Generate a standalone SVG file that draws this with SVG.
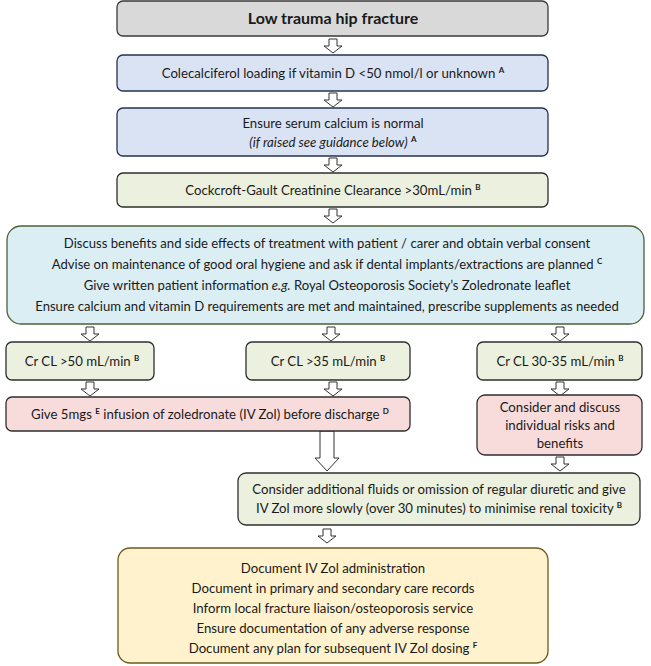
<svg xmlns="http://www.w3.org/2000/svg" width="651" height="666" viewBox="0 0 651 666">
<defs>
<style>
text{font-family:Lato,"Liberation Sans",sans-serif;font-size:13.2px;fill:#1a1a1a;text-anchor:middle}
.t5{font-size:13.1px}
.b{stroke-width:1.3}
.grey{fill:#d9d9d9;stroke:#3a3a3a}
.blue{fill:#dae3f3;stroke:#26324f}
.green{fill:#ebf1de;stroke:#2e2e2e}
.cyan{fill:#dbeef4;stroke:#4a6336}
.pink{fill:#f8dcdc;stroke:#2e2e2e}
.yellow{fill:#fff2cc;stroke:#6b5a1e}
.sup{font-size:8px;font-weight:bold}
.arr{fill:#fff;stroke:#333;stroke-width:1}
</style>
<path id="a" d="M-4,0 L4,0 L4,7 L9,7 L0,14 L-9,7 L-4,7 Z"/>
</defs>
<rect width="651" height="666" fill="#fff"/>
<g id="connectors" class="arr">
<use href="#a" x="333" y="39"/>
<use href="#a" x="333" y="93"/>
<use href="#a" x="333" y="158"/>
<use href="#a" x="333" y="209"/>
<use href="#a" x="90" y="327"/>
<use href="#a" x="331" y="327"/>
<use href="#a" x="560" y="327"/>
<use href="#a" x="90" y="382"/>
<use href="#a" x="333" y="382"/>
<use href="#a" x="560" y="382"/>
<use href="#a" x="560" y="457"/>
<path d="M320,431 L334,431 L334,458 L339,458 L327,471 L315,458 L320,458 Z"/>
<use href="#a" x="327" y="529"/>
</g>
<g id="n1"><rect class="b grey" x="117" y="1" width="431" height="35" rx="6"/>
<text x="333" y="24" style="font-size:16px;font-weight:bold">Low trauma hip fracture</text></g>
<g id="n2"><rect class="b blue" x="117" y="55" width="431" height="36" rx="6"/>
<text x="333" y="78">Colecalciferol loading if vitamin D &lt;50 nmol/l or unknown <tspan class="sup" dy="-5">A</tspan></text></g>
<g id="n3"><rect class="b blue" x="117" y="108" width="431" height="48" rx="6"/>
<text x="333" y="128">Ensure serum calcium is normal</text>
<text x="333" y="147"><tspan font-style="italic">(if raised see guidance below)</tspan> <tspan class="sup" dy="-5">A</tspan></text></g>
<g id="n4"><rect class="b green" x="117" y="173" width="431" height="34" rx="6"/>
<text x="333" y="195">Cockcroft-Gault Creatinine Clearance &gt;30mL/min <tspan class="sup" dy="-5">B</tspan></text></g>
<g id="n5"><rect class="b cyan" x="7" y="226" width="637" height="98" rx="14"/>
<text class="t5" x="327" y="248">Discuss benefits and side effects of treatment with patient / carer and obtain verbal consent</text>
<text class="t5" x="327" y="269">Advise on maintenance of good oral hygiene and ask if dental implants/extractions are planned <tspan class="sup" dy="-5">C</tspan></text>
<text class="t5" x="327" y="290">Give written patient information <tspan font-style="italic">e.g.</tspan> Royal Osteoporosis Society’s Zoledronate leaflet</text>
<text class="t5" x="327" y="311">Ensure calcium and vitamin D requirements are met and maintained, prescribe supplements as needed</text></g>
<g id="n6"><rect class="b green" x="6" y="342" width="148" height="38" rx="6"/>
<text x="82" y="366">Cr CL &gt;50 mL/min <tspan class="sup" dy="-5">B</tspan></text></g>
<g id="n7"><rect class="b green" x="246" y="342" width="164" height="38" rx="6"/>
<text x="328" y="366">Cr CL &gt;35 mL/min <tspan class="sup" dy="-5">B</tspan></text></g>
<g id="n8"><rect class="b green" x="477" y="342" width="165" height="38" rx="6"/>
<text x="560" y="366">Cr CL 30-35 mL/min <tspan class="sup" dy="-5">B</tspan></text></g>
<g id="n9"><rect class="b pink" x="6" y="397" width="404" height="34" rx="6"/>
<text x="210" y="419">Give 5mgs <tspan class="sup" dy="-5">E</tspan><tspan dy="5">  infusion of zoledronate (IV Zol) before discharge </tspan><tspan class="sup" dy="-5">D</tspan></text></g>
<g id="n10"><rect class="b pink" x="477" y="395" width="165" height="60" rx="8"/>
<text x="560" y="412">Consider and discuss</text>
<text x="560" y="430">individual risks and</text>
<text x="560" y="448">benefits</text></g>
<g id="n11"><rect class="b green" x="238" y="473" width="402" height="52" rx="8"/>
<text x="439" y="494">Consider additional fluids or omission of regular diuretic and give</text>
<text x="439" y="513">IV Zol more slowly (over 30 minutes) to minimise renal toxicity <tspan class="sup" dy="-5">B</tspan></text></g>
<g id="n12"><rect class="b yellow" x="118" y="548" width="430" height="115" rx="12"/>
<text x="333" y="573">Document IV Zol administration</text>
<text x="333" y="593">Document in primary and secondary care records</text>
<text x="333" y="613">Inform local fracture liaison/osteoporosis service</text>
<text x="333" y="633">Ensure documentation of any adverse response</text>
<text x="333" y="653">Document any plan for subsequent IV Zol dosing <tspan class="sup" dy="-5">F</tspan></text></g>
</svg>
